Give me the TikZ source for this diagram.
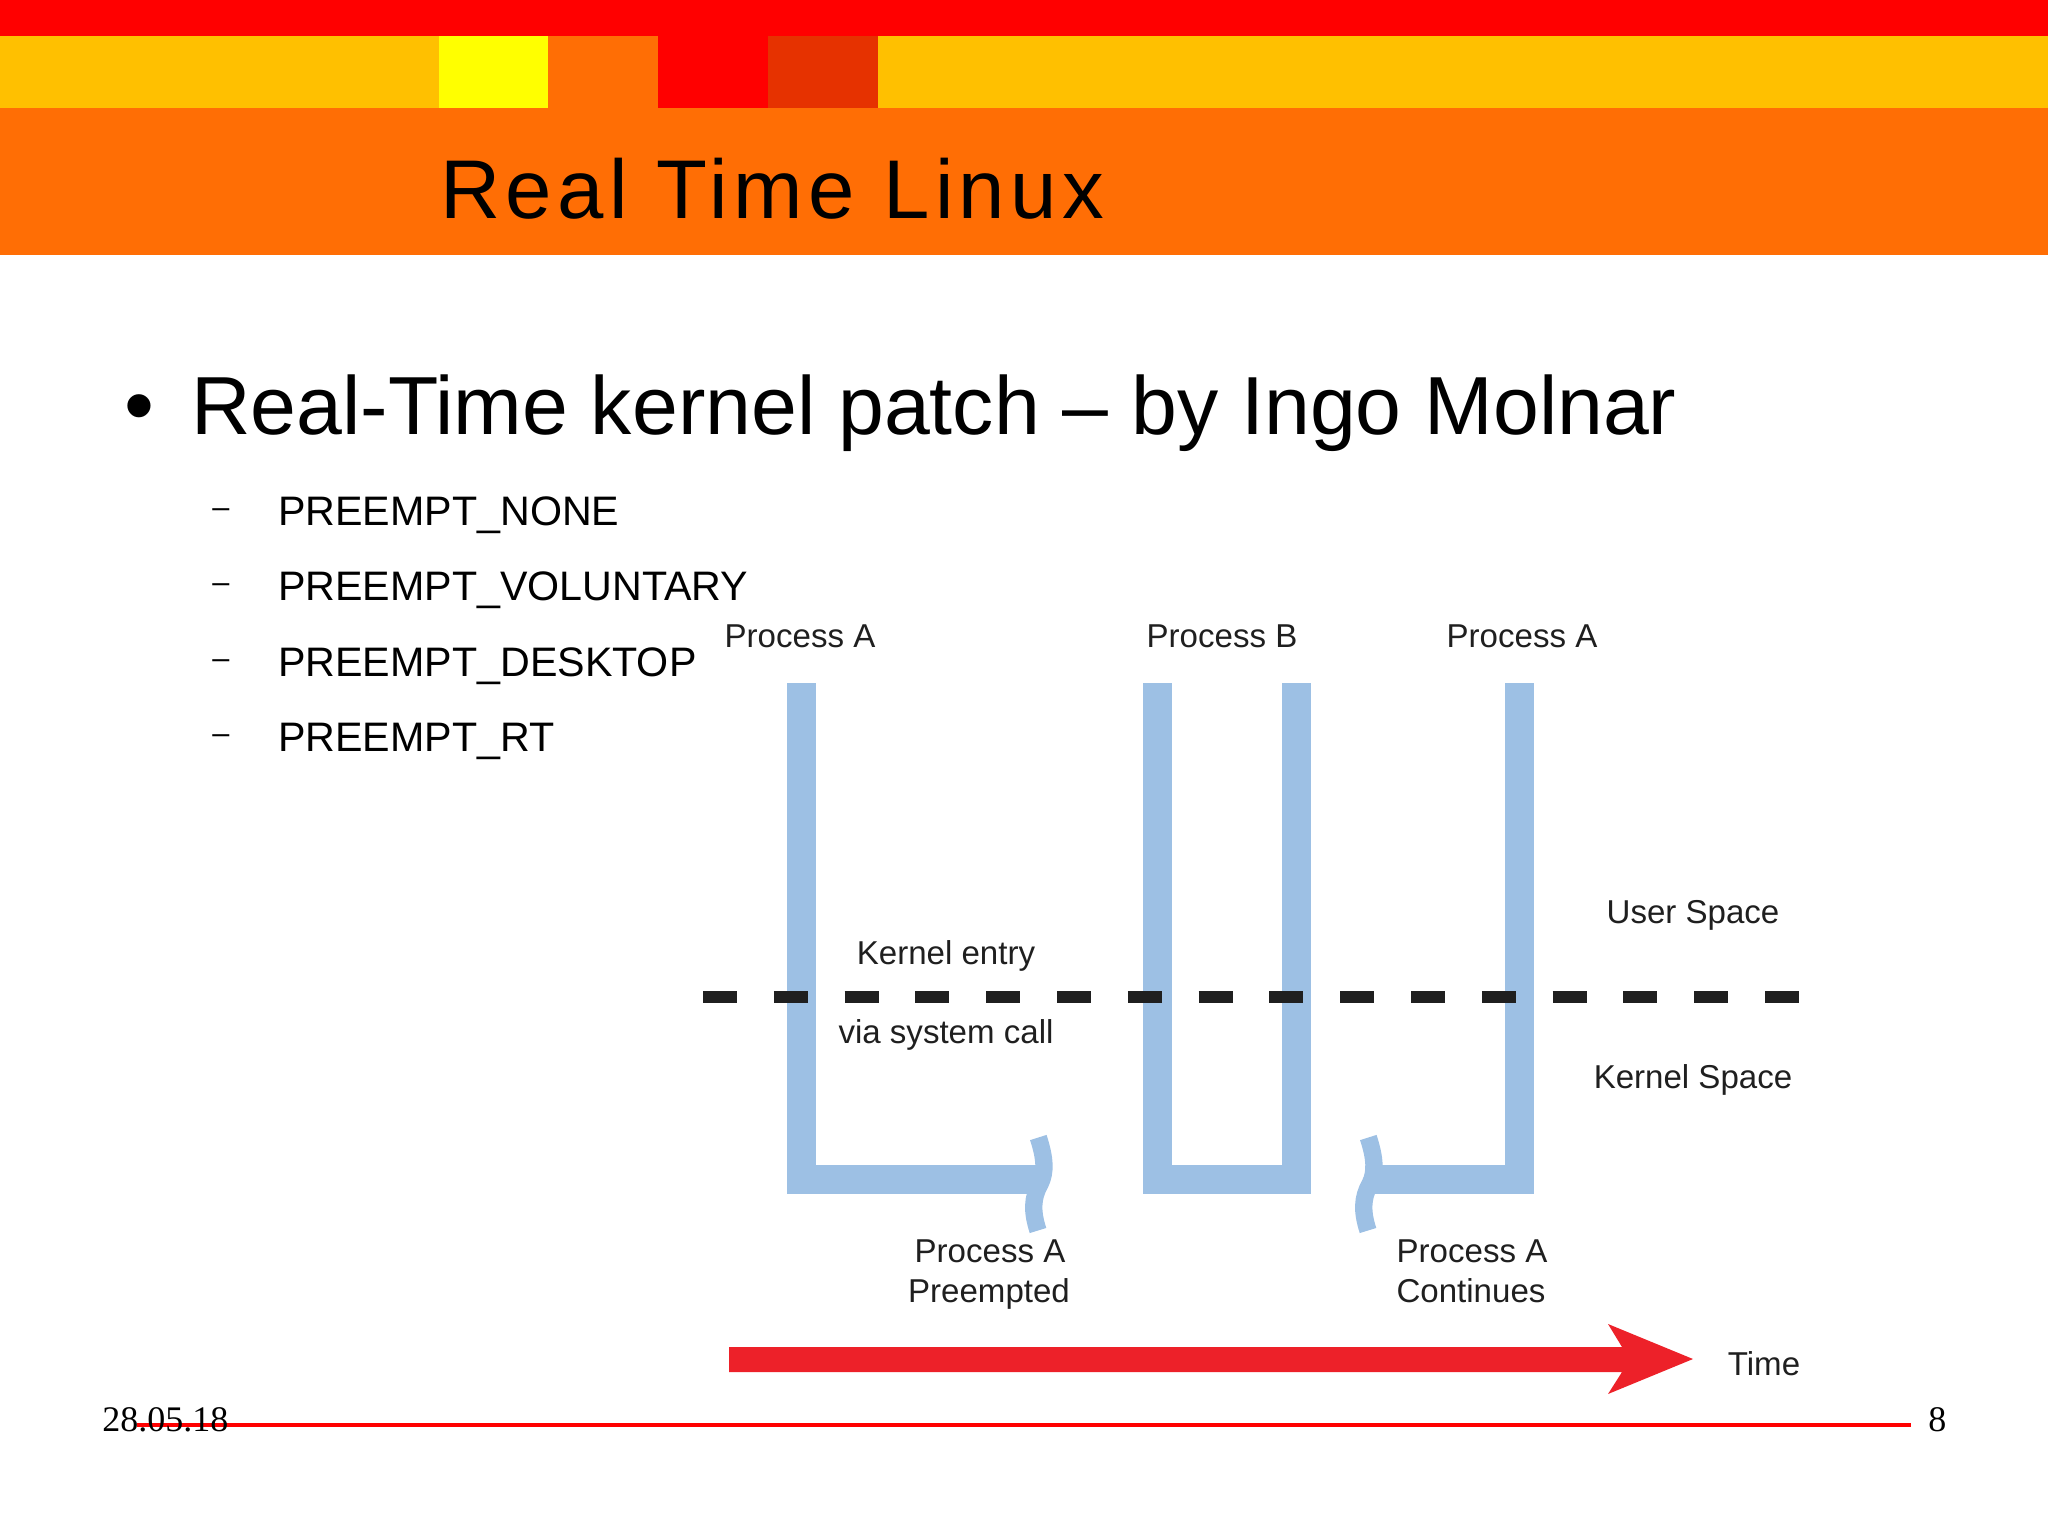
\documentclass[tikz,border=0pt]{standalone}
\usepackage{fontspec}
\setmainfont{Liberation Sans}
\newfontfamily\footfont{Liberation Serif}
\definecolor{barred}{HTML}{FF0000}
\definecolor{bargold}{HTML}{FFC000}
\definecolor{baryellow}{HTML}{FFFF00}
\definecolor{barorange}{HTML}{FF6E05}
\definecolor{bardark}{HTML}{E63200}
\definecolor{flowblue}{HTML}{9DC0E4}
\definecolor{timered}{HTML}{ED2129}
\definecolor{inkdark}{HTML}{1F1F1F}
\tikzset{
  flow/.style={draw=flowblue,line width=21.75pt,miter limit=10},
  flowbreak/.style={draw=flowblue,line width=13pt},
  lbl/.style={anchor=base,inner sep=0pt,text=inkdark,font=\fontsize{24.8}{30}\selectfont},
  item/.style={anchor=base west,inner sep=0pt,font=\fontsize{30.9}{36}\selectfont},
  itemdash/.style={anchor=base west,inner sep=0pt,font=\fontsize{23}{28}\selectfont},
  foot/.style={anchor=base west,inner sep=0pt,font=\footfont\fontsize{27}{30}\selectfont}
}
\begin{document}
\begin{tikzpicture}[x=.75pt,y=-.75pt]
\useasboundingbox (0,0) rectangle (2048,1536);

\fill[barorange] (0,36) rectangle (2048,255);
\fill[barred] (0,0) rectangle (2048,36);
\fill[bargold] (0,36) rectangle (439,108);
\fill[baryellow] (439,36) rectangle (548,108);
\fill[barred] (658,36) rectangle (768,108);
\fill[bardark] (768,36) rectangle (878,108);
\fill[bargold] (878,36) rectangle (2048,108);

\node[anchor=base west,inner sep=0pt,font=\fontsize{62.5}{70}\selectfont\addfontfeature{LetterSpace=6.5}] (title) at (440,218) {Real Time Linux};

\node[anchor=base west,inner sep=0pt,font=\fontsize{64}{70}\selectfont] (bullet) at (124,434) {•};
\node[anchor=base west,inner sep=0pt,font=\fontsize{61.8}{70}\selectfont] (main) at (191,434) {Real-Time kernel patch – by Ingo Molnar};

\foreach \name/\ypos/\word in {none/525/PREEMPT\_NONE,vol/600/PREEMPT\_VOLUNTARY,desk/676/PREEMPT\_DESKTOP,rt/751/PREEMPT\_RT} {
  \node[itemdash] (dash\name) at (212,\ypos-8) {–};
  \node[item] (\name) at (278,\ypos) {\word};
}

\draw[flow] (801.5,683) -- (801.5,1179.5) -- (1040,1179.5);
\draw[flow] (1157,683) -- (1157,1179.5) -- (1296,1179.5) -- (1296,683);
\draw[flow] (1519.5,683) -- (1519.5,1179.5) -- (1370,1179.5);
\foreach \dx in {0,330} {
  \draw[flowbreak] (1038.3+\dx,1137.5) .. controls (1045+\dx,1158) and (1046+\dx,1172) .. (1040+\dx,1184) .. controls (1032+\dx,1198) and (1032+\dx,1212) .. (1038+\dx,1230.5);
}

\coordinate (kernelL) at (703,997);
\coordinate (kernelR) at (1801,997);
\draw[inkdark,line width=9pt,dash pattern=on 25.5pt off 27.6pt] (kernelL) -- (kernelR);

\node[lbl] (procA) at (800,647) {Process A};
\node[lbl] (procB) at (1222,647) {Process B};
\node[lbl] (procC) at (1522,647) {Process A};
\node[lbl] (entry) at (946,964) {Kernel entry};
\node[lbl] (via) at (946,1043) {via system call};
\node[lbl] (user) at (1693,923) {User Space};
\node[lbl] (kern) at (1693,1088) {Kernel Space};
\node[lbl] (preA) at (990,1262) {Process A};
\node[lbl] (preB) at (989,1302) {Preempted};
\node[lbl] (conA) at (1472,1262) {Process A};
\node[lbl] (conB) at (1471,1302) {Continues};
\node[lbl] (time) at (1764,1375) {Time};

\fill[timered] (729,1347) -- (1622,1347) -- (1608,1324) -- (1693,1359) -- (1608,1394) -- (1622,1372) -- (729,1372) -- cycle;

\coordinate (ruleL) at (137,1425);
\coordinate (ruleR) at (1911,1425);
\draw[barred,line width=3pt] (ruleL) -- (ruleR);
\node[foot] (date) at (102,1431) {28.05.18};
\node[foot] (page) at (1928,1431) {8};

\end{tikzpicture}
\end{document}
